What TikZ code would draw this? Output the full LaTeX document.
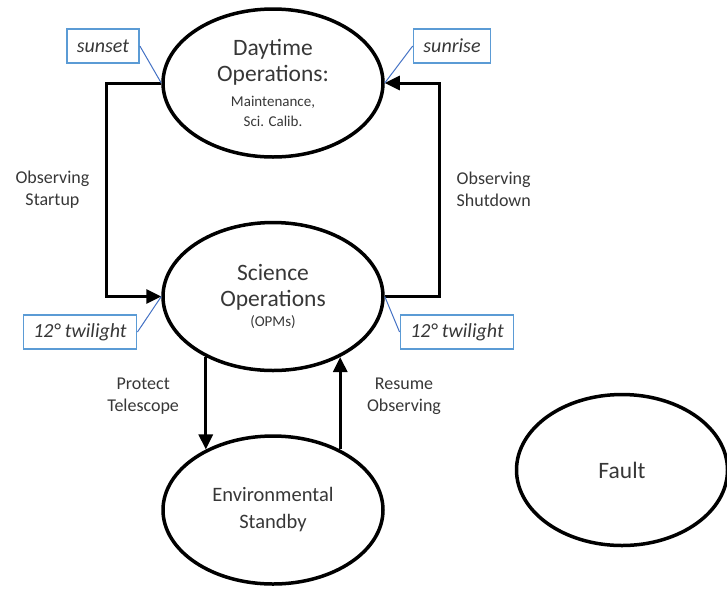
\documentclass[tikz,border=0pt]{standalone}
\usepackage{fontspec}
\setmainfont{Carlito}
\usetikzlibrary{arrows.meta,shapes.geometric,positioning}

\definecolor{notebox}{RGB}{91,155,213}
\definecolor{noteline}{RGB}{68,114,196}
\definecolor{txt}{RGB}{55,55,55}

\newcommand{\subsize}{\fontsize{15}{20}\selectfont}

\begin{document}
\begin{tikzpicture}
        [x=1pt,y=-1pt,->,>={Triangle[length=15pt,width=14pt]},line width=3pt,
        node distance=62pt,
        mode/.style={ellipse,draw,line width=3.5pt,minimum width=220pt,minimum height=148pt,align=center,text=txt,font=\fontsize{23.5}{26}\selectfont},
        trans/.style={text=txt,align=center,font=\fontsize{18}{22}\selectfont},
        note/.style={draw=notebox,line width=1.5pt,text=txt,inner xsep=10pt,minimum height=34pt,font=\fontsize{20}{24}\selectfont\itshape},
        noteedge/.style={-,draw=noteline,line width=1pt}]
    \useasboundingbox (0,0) rectangle (727,590);

    \node[mode] (day) at (273,83) {Daytime\\Operations:\\[-1pt]\subsize Maintenance,\\[-6pt]\subsize Sci. Calib.};
    \node[mode] (sci) [below=of day] {Science\\Operations\\[-6pt]\subsize (OPMs)};
    \node[mode,font=\fontsize{20.5}{27}\selectfont] (env) [below=of sci] {Environmental\\Standby};
    \node[mode,minimum width=211pt,minimum height=151pt] (fault) at (622,470) {Fault};

    \node[note] (sunset) at (103,46) {sunset};
    \node[note] (sunrise) at (452,46) {sunrise};
    \node[note] (twl-l) at (80,332) {12° twilight};
    \node[note] (twl-r) at (457,332) {12° twilight};

    \draw (day.west) -- ++(-55,0) |- node[trans,left=12pt,pos=0.25] {Observing\\Startup} (sci.west);
    \draw (sci.east) -- ++(55,0) |- node[trans,right=12pt,pos=0.25] {Observing\\Shutdown} (day.east);
    \draw (sci.222) -- node[trans,left=22pt,pos=0.42] {Protect\\Telescope} (env.138);
    \draw (env.42) -- node[trans,right=22pt,pos=0.58] {Resume\\Observing} (sci.318);

    \path[noteedge]
    (sunset.east) edge (day.west)
    (sunrise.west) edge (day.east)
    (twl-l.east) edge (sci.west)
    (twl-r.west) edge (sci.east);
\end{tikzpicture}
\end{document}
